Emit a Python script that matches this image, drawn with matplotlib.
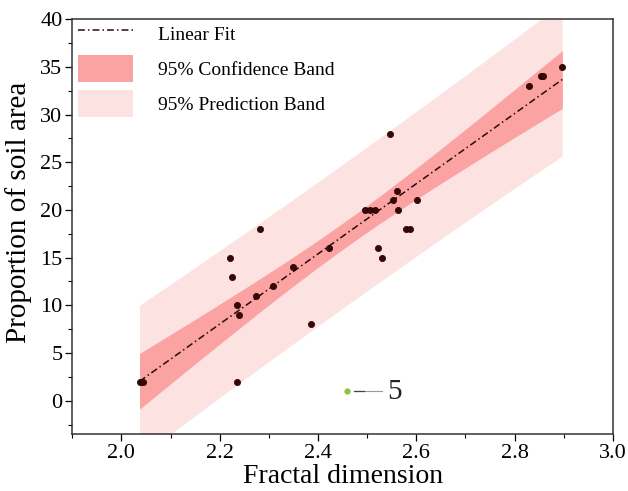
import numpy as np
import matplotlib
matplotlib.use('Agg')
import matplotlib.pyplot as plt
from matplotlib.ticker import MultipleLocator

plt.rcParams['font.family'] = ['Liberation Serif', 'DejaVu Serif']

# data
fractal_dim = [2.037, 2.045, 2.221, 2.225, 2.235, 2.240, 2.235, 2.273, 2.282,
               2.308, 2.350, 2.386, 2.422, 2.495, 2.506, 2.516, 2.522, 2.530,
               2.546, 2.552, 2.560, 2.562, 2.579, 2.587, 2.602, 2.829, 2.853,
               2.857, 2.897]
soil_area = [2, 2, 15, 13, 10, 9, 2, 11, 18,
             12, 14, 8, 16, 20, 20, 20, 16, 15,
             28, 21, 22, 20, 18, 18, 21, 33, 34,
             34, 35]
stray_x = [2.458]
stray_y = [1]
stray_label = '5'

x = np.array(fractal_dim)
y = np.array(soil_area)
n = len(x)

# linear fit + 95% bands
slope, intercept = np.polyfit(x, y, 1)
resid = y - (slope * x + intercept)
s = np.sqrt(np.sum(resid ** 2) / (n - 2))
t = 2.052  # t(0.975, n-2)
xbar = x.mean()
sxx = np.sum((x - xbar) ** 2)
xx = np.linspace(x.min(), x.max(), 200)
yy = slope * xx + intercept
conf = t * s * np.sqrt(1 / n + (xx - xbar) ** 2 / sxx)
pred = t * s * np.sqrt(1 + 1 / n + (xx - xbar) ** 2 / sxx)

fig = plt.figure(figsize=(6.28, 4.91), dpi=100)
ax = fig.add_axes([0.115, 0.116, 0.861, 0.845])

ax.fill_between(xx, yy - pred, yy + pred, color='#fde2e2', lw=0,
                label='95% Prediction Band')
ax.fill_between(xx, yy - conf, yy + conf, color='#fba3a3', lw=0,
                label='95% Confidence Band')
ax.plot(xx, yy, color='#2a0a0a', lw=1.1, ls=(0, (4.5, 2, 1, 2)), label='Linear Fit')
ax.scatter(x, y, s=20, color='#3a0707', edgecolor='#1a0000', lw=0.5, zorder=3)

# stray marker with label
ax.plot(stray_x, stray_y, 'o', color='#8cc43c', ms=3.5, zorder=3)
ax.plot([stray_x[0] + 0.015, stray_x[0] + 0.072], [stray_y[0], stray_y[0]],
        color='#999999', lw=0.8)
ax.plot([stray_x[0] + 0.015, stray_x[0] + 0.035], [stray_y[0], stray_y[0]],
        color='#444444', lw=0.9)
ax.text(stray_x[0] + 0.082, stray_y[0] - 0.1, stray_label, fontsize=21,
        va='center', ha='left', color='#222222')

ax.set_xlim(1.9, 3.0)
ax.set_ylim(-3.5, 40)
ax.xaxis.set_major_locator(MultipleLocator(0.2))
ax.xaxis.set_minor_locator(MultipleLocator(0.1))
ax.yaxis.set_major_locator(MultipleLocator(5))
ax.yaxis.set_minor_locator(MultipleLocator(2.5))
ax.set_xticks([2.0, 2.2, 2.4, 2.6, 2.8, 3.0])
ax.set_xticklabels(['2.0', '2.2', '2.4', '2.6', '2.8', '3.0'])
ax.tick_params(which='major', direction='out', length=5, width=0.9,
               labelsize=16, pad=2)
ax.tick_params(which='minor', direction='out', length=3, width=0.8)
for sp in ax.spines.values():
    sp.set_linewidth(1.1)
    sp.set_color('#333333')

ax.set_xlabel('Fractal dimension', fontsize=20, labelpad=1)
ax.set_ylabel('Proportion of soil area', fontsize=21)
ax.yaxis.set_label_coords(-0.074, 0.535)

h, l = ax.get_legend_handles_labels()
order = [2, 1, 0]
ax.legend([h[i] for i in order], [l[i] for i in order], loc='upper left',
          bbox_to_anchor=(0.011, 0.998), frameon=False, fontsize=14,
          handlelength=2.8, handleheight=1.75, borderaxespad=0, borderpad=0,
          labelspacing=0.42, handletextpad=1.3)

fig.savefig('out.png', dpi=100)
